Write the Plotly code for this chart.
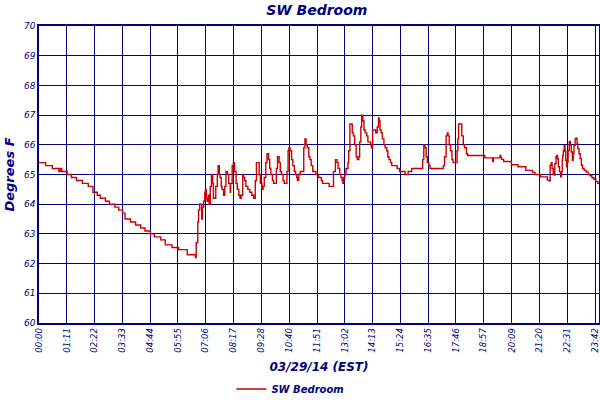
import plotly.graph_objects as go

# readings (minutes after midnight, degrees F)
minutes = [
    0, 17, 34, 51, 54, 58, 72, 83, 96, 111, 126, 138, 149, 157, 170, 180, 194, 204, 214, 220,
    234, 247, 260, 271, 285, 295, 311, 323, 340, 357, 379, 400,
    402, 406, 408, 411, 413, 416, 418, 421, 424, 426, 428, 430, 433, 435, 438, 441, 444, 446,
    450, 452, 456, 458, 461, 463, 466, 468, 472, 475, 478, 482, 485, 489, 490, 494, 497, 500,
    504, 507, 511, 514, 517, 521, 523, 526, 529, 534, 539, 544, 549, 553, 556, 560, 563, 566,
    570, 573, 576, 580, 583, 587, 590, 593, 597, 600, 604, 607, 610, 614, 617, 620, 624, 627,
    631, 634, 637, 639, 642, 646, 649, 653, 656, 659, 661, 664, 668, 674, 677, 680, 683, 686,
    690, 693, 696, 700, 708, 715, 722, 725, 739, 742, 753, 758, 762, 765, 769, 772, 775, 777,
    779, 782, 785, 790, 792, 795, 799, 801, 804, 807, 811, 814, 818, 820, 823, 825, 828, 831,
    834, 838, 841, 848, 850, 853, 858, 861, 865, 868, 870, 872, 875, 878, 882, 885, 889, 892,
    895, 899, 902, 916, 922, 936, 944, 953, 981, 984, 987, 990, 993, 997, 1000, 1034, 1037,
    1041, 1044, 1046, 1049, 1052, 1056, 1059, 1069, 1071, 1073, 1078, 1081, 1085, 1088, 1093,
    1096, 1140, 1160, 1162, 1179, 1181, 1183, 1188, 1208, 1225, 1245, 1262, 1268, 1283, 1300,
    1305, 1307, 1310, 1312, 1315, 1317, 1319, 1322, 1324, 1326, 1328, 1331, 1334, 1336, 1338,
    1339, 1341, 1343, 1345, 1347, 1349, 1350, 1353, 1356, 1359, 1361, 1364, 1366, 1368, 1371,
    1373, 1376, 1378, 1381, 1384, 1387, 1390, 1394, 1399, 1404, 1409, 1414, 1419, 1424, 1429,
    1432,
]
temps = [
    65.4, 65.3, 65.2, 65.1, 65.2, 65.1, 65.0, 64.9, 64.8, 64.7, 64.6, 64.4, 64.3, 64.2, 64.1,
    64.0, 63.9, 63.8, 63.7, 63.5, 63.4, 63.3, 63.2, 63.1, 63.0, 62.9, 62.8, 62.63, 62.54, 62.47,
    62.3, 62.2,
    62.7, 63.4, 63.8, 64.0, 64.0, 63.5, 63.9, 64.1, 64.4, 64.5, 64.2, 64.1, 64.3, 64.0, 64.6,
    65.0, 64.7, 64.2, 64.2, 64.6, 65.0, 65.3, 65.0, 64.9, 64.6, 64.5, 64.3, 64.6, 65.1, 65.0,
    64.7, 64.4, 64.7, 65.3, 65.4, 65.1, 64.7, 64.5, 64.3, 64.2, 64.3, 65.0, 64.9, 64.8, 64.6,
    64.5, 64.4, 64.3, 64.2, 64.8, 65.4, 65.4, 65.0, 64.7, 64.5, 64.6, 64.9, 65.4, 65.7, 65.5,
    65.2, 65.0, 64.8, 64.7, 64.7, 65.2, 65.6, 65.4, 65.1, 65.0, 64.8, 64.7, 64.7, 65.1, 65.8,
    65.9, 65.8, 65.5, 65.3, 65.1, 65.0, 64.9, 64.8, 65.0, 65.1, 65.1, 65.9, 66.2, 66.0, 65.9,
    65.6, 65.5, 65.3, 65.1, 65.0, 64.9, 64.8, 64.7, 64.7, 64.6, 65.1, 65.5, 65.4, 65.2, 65.0,
    64.9, 64.8, 64.7, 64.9, 65.0, 65.2, 65.4, 65.8, 66.7, 66.7, 66.4, 66.3, 66.0, 65.6, 65.5,
    65.6, 66.1, 66.6, 67.0, 66.8, 66.5, 66.4, 66.3, 66.1, 66.0, 65.9, 66.5, 66.5, 66.4, 66.6,
    66.9, 66.8, 66.5, 66.4, 66.2, 66.0, 65.9, 65.8, 65.6, 65.5, 65.4, 65.3, 65.2, 65.1, 65.0,
    65.1, 65.2, 65.5, 66.0, 65.9, 65.6, 65.4, 65.3, 65.2, 65.3, 65.6, 66.3, 66.4, 66.3, 66.0,
    65.8, 65.5, 65.4, 65.8, 66.2, 66.7, 66.7, 66.3, 66.0, 65.9, 65.7,
    65.64, 65.56, 65.44, 65.56, 65.64, 65.56, 65.51, 65.44, 65.33, 65.26, 65.14, 65.07, 65.0,
    64.92, 64.81, 64.78, 65.31, 65.4, 65.2, 65.03, 64.98, 65.37, 65.59, 65.64, 65.53, 65.26,
    65.09, 64.92, 65.09, 65.48, 65.64, 65.81, 65.98, 65.78, 65.48, 65.26, 65.42, 65.81, 66.11,
    65.98, 65.76, 65.48, 65.7, 65.98, 66.2, 66.22, 66.03, 65.87, 65.7, 65.53, 65.31, 65.2,
    65.14, 65.09, 65.0, 64.96, 64.89, 64.84, 64.76, 64.7, 64.7,
]

tick_labels = ["00:00", "01:11", "02:22", "03:33", "04:44", "05:55", "07:06", "08:17",
               "09:28", "10:40", "11:51", "13:02", "14:13", "15:24", "16:35", "17:46",
               "18:57", "20:09", "21:20", "22:31", "23:42", "23:52"]
tick_mins = [int(t[:2]) * 60 + int(t[3:]) for t in tick_labels]

navy = "#000080"
fnt = "DejaVu Sans"

fig = go.Figure()
fig.add_trace(go.Scatter(x=minutes, y=temps, mode="lines", line_shape="hv",
                         line=dict(color="#CC0000", width=1.4), name="SW Bedroom"))

fig.update_layout(
    width=600, height=400, template="none",
    paper_bgcolor="white", plot_bgcolor="white",
    margin=dict(l=39, r=1, t=26, b=77),
    title=dict(text="SW Bedroom", x=0.528, xanchor="center", y=0.975, yanchor="middle",
               font=dict(family=fnt, size=14, color=navy, weight="bold", style="italic")),
    showlegend=True,
    legend=dict(orientation="h", xref="container", yref="container",
                x=0.484, xanchor="center", y=0.0275, yanchor="middle",
                font=dict(family=fnt, size=10, color=navy, weight="bold", style="italic"),
                bgcolor="rgba(0,0,0,0)"),
)
fig.update_xaxes(range=[0, tick_mins[-1]], tickvals=tick_mins, ticktext=tick_labels,
                 tickangle=-90, automargin=False,
                 tickfont=dict(family=fnt, size=8.5, color=navy, style="italic"),
                 showgrid=True, gridcolor=navy, gridwidth=1.3,
                 showline=True, linecolor=navy, linewidth=1.5, mirror=True,
                 ticks="", zeroline=False,
                 title=dict(text="03/29/14 (EST)", standoff=18,
                            font=dict(family=fnt, size=12, color=navy, weight="bold", style="italic")))
fig.update_yaxes(range=[60, 70], dtick=1, automargin=False,
                 tickfont=dict(family=fnt, size=9, color=navy, style="italic"),
                 showgrid=True, gridcolor=navy, gridwidth=1.3,
                 showline=True, linecolor=navy, linewidth=1.5, mirror=True,
                 ticks="", zeroline=False,
                 title=dict(text="Degrees F", standoff=6,
                            font=dict(family=fnt, size=13, color=navy, weight="bold", style="italic")))

# page margin off so the 600x400 figure fills the window
fix_page = ("document.body.style.margin='0';"
            "Plotly.relayout(document.getElementById('{plot_id}'), {width: 600, height: 400});")
fig.write_html("out.html", post_script=fix_page, config={"displayModeBar": False})
